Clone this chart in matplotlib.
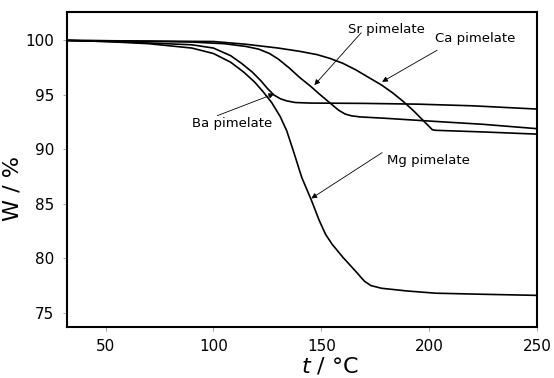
import matplotlib
matplotlib.use("Agg")
import matplotlib.pyplot as plt

# Mg pimelate
mg_t = [32, 50, 70, 90, 100, 108, 114, 119, 123, 127, 131, 134, 137, 141, 145.5, 149, 152, 155, 160, 166, 170, 173, 178, 190, 203, 225, 250]
mg_w = [100, 99.9, 99.7, 99.3, 98.8, 98.0, 97.1, 96.2, 95.3, 94.3, 93.0, 91.7, 89.9, 87.4, 85.3, 83.5, 82.2, 81.3, 80.1, 78.8, 77.9, 77.5, 77.25, 77.0, 76.8, 76.7, 76.6]

# Ba pimelate
ba_t = [32, 60, 90, 100, 108, 113, 118, 122, 125, 128, 131, 134, 138, 145, 170, 195, 220, 250]
ba_w = [100, 99.85, 99.6, 99.3, 98.6, 97.9, 97.1, 96.3, 95.6, 95.0, 94.65, 94.45, 94.3, 94.25, 94.22, 94.15, 94.0, 93.7]

# Sr pimelate
sr_t = [32, 60, 90, 105, 115, 121, 126, 130, 135, 140, 145, 149, 152, 155, 158, 161, 164, 168, 180, 200, 225, 250]
sr_w = [100, 99.95, 99.85, 99.7, 99.45, 99.2, 98.8, 98.3, 97.5, 96.6, 95.8, 95.1, 94.6, 94.1, 93.6, 93.25, 93.08, 92.98, 92.85, 92.6, 92.3, 91.9]

# Ca pimelate
ca_t = [32, 100, 115, 130, 140, 148, 154, 160, 166, 172, 178, 183, 188, 193, 197, 200, 201.5, 203, 225, 250]
ca_w = [100, 99.9, 99.65, 99.3, 99.0, 98.7, 98.35, 97.9, 97.3, 96.6, 95.9, 95.2, 94.4, 93.5, 92.7, 92.1, 91.8, 91.75, 91.6, 91.4]

labels = ["Sr pimelate", "Ca pimelate", "Ba pimelate", "Mg pimelate"]
# (text anchor, arrow tip, arrow start) in data coordinates
label_text_xy = [(162.5, 101.0), (202.5, 100.15), (90.0, 92.4), (180.5, 89.0)]
label_tip_xy = [(146.8, 95.9), (178.2, 96.2), (128.2, 95.1), (145.4, 85.5)]
label_start_xy = [(168.5, 100.7), (203.7, 99.1), (101.9, 93.1), (178.2, 89.7)]

xticks = [50, 100, 150, 200, 250]
yticks = [75, 80, 85, 90, 95, 100]

plt.rcParams['font.family'] = ['DejaVu Sans']
fig = plt.figure(figsize=(5.54, 3.78), dpi=100)
ax = fig.add_axes([0.1204, 0.135, 0.8489, 0.833])

for t, w in [(mg_t, mg_w), (ba_t, ba_w), (sr_t, sr_w), (ca_t, ca_w)]:
    ax.plot(t, w, color='black', lw=1.2, solid_joinstyle='round')

for lab, txy, tip, st in zip(labels, label_text_xy, label_tip_xy, label_start_xy):
    ax.text(txy[0], txy[1], lab, fontsize=9.5, ha='left', va='center', color='black')
    ax.annotate('', xy=tip, xytext=st,
                arrowprops=dict(arrowstyle='-|>', color='black', lw=0.6,
                                mutation_scale=8, shrinkA=0, shrinkB=0))

ax.set_xlim(32, 250)
ax.set_ylim(73.7, 102.6)
ax.set_xticks(xticks)
ax.set_yticks(yticks)
ax.tick_params(direction='out', length=3, width=0.5, color='gray', labelsize=11, pad=6)
for s in ax.spines.values():
    s.set_linewidth(1.5)

ax.set_xlabel(r'$t$ / °C', fontsize=16)
ax.xaxis.set_label_coords(0.56, -0.09)
ax.set_ylabel('W / %', fontsize=16)
ax.yaxis.set_label_coords(-0.093, 0.44)

fig.savefig('out.png', dpi=100)
